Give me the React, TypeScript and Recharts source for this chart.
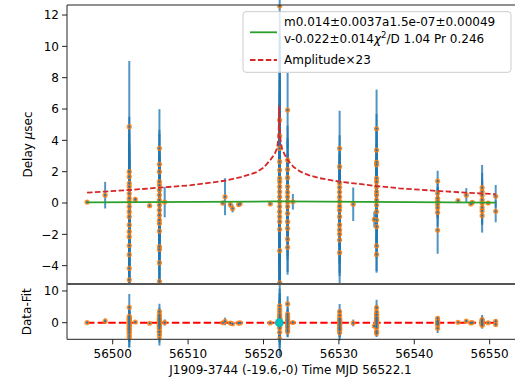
import React from 'react';
import { ComposedChart, Scatter, Line, XAxis, YAxis, ErrorBar } from 'recharts';

// ---- data ----
const epochs = [
  56496.6, 56499.0, 56502.2, 56503.0, 56504.9, 56506.2, 56506.9, 56514.6, 56514.9,
  56515.6, 56515.9, 56516.7, 56516.9, 56520.9, 56522.15, 56523.2, 56523.9, 56530.1,
  56531.9, 56534.7, 56535.0, 56543.1, 56545.8, 56546.9, 56547.5, 56547.7, 56549.0,
  56549.8, 56550.8,
];
const delays: number[][] = [
  [0.06],
  [0.5],
  [4.87, 2.0, 1.68, 1.25, 1.04, 0.6, 0.3, 0.08, -0.23, -0.55, -0.87, -1.4, -1.83, -2.15, -2.72, -3.3, -4.17, -4.9],
  [0.23],
  [-0.17],
  [3.49, 2.47, 2.0, 1.36, 1.15, 0.83, 0.51, 0.19, -0.13, -0.45, -0.77, -1.09, -1.3, -1.79, -2.79, -2.96, -3.81, -5.0],
  [0.06],
  [0.0],
  [0.4],
  [-0.1],
  [-0.35],
  [-0.1],
  [-0.05],
  [-0.06],
  [12.57, 5.3, 4.28, 3.49, 2.64, 2.1, 1.58, 1.36, 1.04, 0.72, 0.4, 0.08, -0.23, -0.55, -0.87, -1.19, -1.68, -3.04, -5.1],
  [5.93, 2.74, 2.15, 1.62, 1.04, 0.68, 0.4, 0.08, -0.23, -0.66, -1.19, -1.62, -2.3, -2.83],
  [0.08],
  [3.49, 2.32, 1.27, 1.0, 0.7, 0.4, 0.1, -0.2, -0.45, -0.87, -1.4, -1.72, -1.98, -2.36, -3.17],
  [-0.08],
  [-1.05],
  [4.74, 3.38, 2.6, 2.45, 1.58, 1.36, 1.04, 0.72, 0.51, 0.19, -0.13, -0.55, -1.09, -1.51, -2.74, -3.28],
  [1.4, 0.62, 0.3, 0.1, -0.1, -0.3, -0.6, -1.74],
  [0.15],
  [0.5],
  [-0.06],
  [0.04],
  [0.98, 0.72, 0.5, 0.2, 0.0, -0.3, -0.5, -0.81],
  [0.0],
  [0.43, -0.53],
];
const errors: number[][] = [
  [0.1],
  [0.85],
  [4.2, 3.5, 3.0, 3.2, 2.8, 3.0, 2.5, 3.3, 3.0, 2.6, 3.1, 2.8, 3.4, 3.0, 3.2, 2.9, 3.5, 3.0],
  [0.15],
  [0.1],
  [2.5, 2.2, 2.4, 2.0, 2.3, 2.1, 2.5, 2.2, 2.4, 2.0, 2.6, 2.2, 2.4, 2.1, 2.3, 2.0, 2.4, 2.2],
  [0.97],
  [0.15],
  [1.18],
  [0.2],
  [0.25],
  [0.15],
  [0.15],
  [0.1],
  [6.0, 5.5, 5.0, 5.6, 5.2, 4.8, 5.5, 5.0, 5.3, 4.9, 5.4, 5.1, 5.6, 5.0, 5.2, 4.9, 5.3, 5.0, 5.5],
  [2.4, 2.2, 2.0, 2.3, 2.1, 1.9, 2.2, 2.0, 2.1, 1.9, 2.2, 2.0, 2.1, 1.75],
  [0.5],
  [2.4, 2.0, 2.3, 2.1, 2.5, 2.2, 2.4, 2.0, 2.3, 2.1, 2.4, 2.2, 2.5, 2.3, 2.4],
  [1.07],
  [0.5],
  [2.5, 2.3, 2.1, 2.4, 2.2, 2.0, 2.3, 2.1, 2.2, 2.0, 2.4, 2.1, 2.3, 2.0, 1.6, 1.17],
  [0.66, 0.8, 0.7, 0.9, 0.8, 0.7, 0.9, 1.5],
  [0.1],
  [0.45],
  [0.1],
  [0.1],
  [1.45, 1.2, 1.0, 1.1, 0.9, 1.0, 0.9, 1.08],
  [0.1],
  [0.72, 0.7],
];

// fitted model (green) and scaled amplitude curve (red dashed)
const fitMjd = [56496.6, 56522.1, 56550.8];
const fitDelay = [0.04, 0.1, 0.02];
const fitMean = 0.014;

const ampMjd = [
  56496.6, 56499.0, 56502.2, 56506.2, 56510.0, 56513.0, 56514.8, 56517.0, 56519.0, 56520.0,
  56520.9, 56521.5, 56521.8, 56522.0, 56522.1, 56522.2, 56522.45, 56522.8, 56523.2, 56524.0,
  56524.9, 56526.0, 56527.5, 56530.1, 56533.0, 56535.0, 56538.0, 56543.1, 56546.9, 56550.8,
];
const ampValue = [
  0.66, 0.73, 0.83, 0.98, 1.12, 1.3, 1.42, 1.65, 1.95, 2.25,
  2.74, 3.15, 3.49, 4.2, 6.2, 4.2, 3.49, 3.1, 2.74, 2.3,
  2.0, 1.78, 1.58, 1.36, 1.2, 1.08, 0.94, 0.77, 0.66, 0.56,
];
const zeroMjd = [56496.6, 56550.8];
const highlight = { mjd: 56522.1, resid: 0 };

const xTicks = [56500, 56510, 56520, 56530, 56540, 56550];
const topYTicks = [-4, -2, 0, 2, 4, 6, 8, 10, 12];
const botYTicks = [0, 10];

// ---- tables built from the arrays ----
const points = epochs.flatMap((m, i) =>
  delays[i].map((d, j) => ({ x: m, y: d, e: errors[i][j], r: d - fitMean }))
);
const fitLine = fitMjd.map((m, i) => ({ x: m, y: fitDelay[i] }));
const ampLine = ampMjd.map((m, i) => ({ x: m, y: ampValue[i] }));
const zeroLine = zeroMjd.map((m) => ({ x: m, y: 0 }));
const hiPoint = [{ x: highlight.mjd, r: highlight.resid }];

const FONT = 'DejaVu Sans';
const fmt = (v: number) => String(v).replace('-', '\u2212');
const xDomain: [number, number] = [56493.94, 56553.36];
const topDomain: [number, number] = [-5.17, 12.64];
const botDomain: [number, number] = [-5.24, 12.2];

const orangeShape = (p: any) => (
  <circle cx={p.cx} cy={p.cy} r={2.6} fill="#ff7f0e" fillOpacity={0.85} />
);
const blueShape = (p: any) => <circle cx={p.cx} cy={p.cy} r={1.1} fill="#1f77b4" />;
const cyanShape = (p: any) => <circle cx={p.cx} cy={p.cy} r={4.4} fill="#00bfbf" />;
const noDot = () => null;

const tickStyle = { fill: '#000', fontSize: 12, fontFamily: FONT };

export default function App() {
  return (
    <div style={{ position: 'absolute', left: 0, top: 0, width: 515, height: 383, fontFamily: FONT }}>
      {/* top panel: data with error bars */}
      <div style={{ position: 'absolute', left: 0, top: 0 }}>
        <ComposedChart width={515} height={285} margin={{ top: 5, right: 0, bottom: 1, left: 0 }}>
          <XAxis dataKey="x" type="number" domain={xDomain} allowDataOverflow hide />
          <YAxis
            type="number"
            domain={topDomain}
            allowDataOverflow
            ticks={topYTicks}
            interval={0}
            width={67}
            tickSize={5}
            tickMargin={3}
            tickFormatter={fmt}
            tick={tickStyle}
            axisLine={{ stroke: '#222', strokeWidth: 1 }}
            tickLine={{ stroke: '#222' }}
          />
          <Scatter data={points} dataKey="y" shape={orangeShape} isAnimationActive={false} />
          <Scatter data={points} dataKey="y" shape={blueShape} isAnimationActive={false}>
            <ErrorBar dataKey="e" direction="y" width={0} stroke="#1f77b4" strokeWidth={2} strokeOpacity={0.78} />
          </Scatter>
        </ComposedChart>
      </div>
      {/* top panel: model curves drawn above the data */}
      <div style={{ position: 'absolute', left: 0, top: 0 }}>
        <ComposedChart width={515} height={285} margin={{ top: 5, right: 0, bottom: 1, left: 67 }}>
          <XAxis dataKey="x" type="number" domain={xDomain} allowDataOverflow hide />
          <YAxis type="number" domain={topDomain} allowDataOverflow hide />
          <Line data={fitLine} dataKey="y" stroke="#2ca02c" strokeWidth={1.8} dot={noDot} activeDot={false} isAnimationActive={false} />
          <Line data={ampLine} dataKey="y" type="linear" stroke="#d62728" strokeWidth={1.8} strokeDasharray="5.5 2.4" dot={noDot} activeDot={false} isAnimationActive={false} />
        </ComposedChart>
      </div>
      {/* bottom panel: residuals */}
      <div style={{ position: 'absolute', left: 0, top: 284 }}>
        <ComposedChart width={515} height={99} margin={{ top: 0, right: 0, bottom: 0, left: 0 }}>
          <XAxis
            dataKey="x"
            type="number"
            domain={xDomain}
            allowDataOverflow
            ticks={xTicks}
            interval={0}
            height={43.7}
            tickSize={5}
            tickMargin={5}
            tick={tickStyle}
            axisLine={{ stroke: '#222', strokeWidth: 1 }}
            tickLine={{ stroke: '#222' }}
          />
          <YAxis
            type="number"
            domain={botDomain}
            allowDataOverflow
            ticks={botYTicks}
            interval={0}
            width={67}
            tickSize={5}
            tickMargin={3}
            tickFormatter={fmt}
            tick={tickStyle}
            axisLine={{ stroke: '#222', strokeWidth: 1 }}
            tickLine={{ stroke: '#222' }}
          />
          <Scatter data={points} dataKey="r" shape={orangeShape} isAnimationActive={false} />
          <Scatter data={points} dataKey="r" shape={blueShape} isAnimationActive={false}>
            <ErrorBar dataKey="e" direction="y" width={0} stroke="#1f77b4" strokeWidth={2} strokeOpacity={0.78} />
          </Scatter>
          <Line data={zeroLine} dataKey="y" stroke="#ff0000" strokeWidth={2} strokeDasharray="7.4 3.2" dot={noDot} activeDot={false} isAnimationActive={false} />
          <Scatter data={hiPoint} dataKey="r" shape={cyanShape} isAnimationActive={false} />
        </ComposedChart>
      </div>
      <svg width={515} height={383} style={{ position: 'absolute', left: 0, top: 0, pointerEvents: 'none' }}>
        <line x1={67} y1={5} x2={515} y2={5} stroke="#222" strokeWidth={1} />
        <line x1={67} y1={284} x2={515} y2={284} stroke="#555" strokeWidth={2} />
        <text x={31.5} y={144.5} transform="rotate(-90 31.5 144.5)" textAnchor="middle" fontSize={12} fontFamily={FONT} fill="#000">
          Delay <tspan fontStyle="italic">μ</tspan>sec
        </text>
        <text x={31.5} y={311.7} transform="rotate(-90 31.5 311.7)" textAnchor="middle" fontSize={12} fontFamily={FONT} fill="#000">
          Data-Fit
        </text>
        <text x={290.5} y={374.4} textAnchor="middle" fontSize={12} fontFamily={FONT} fill="#000">
          J1909-3744 (-19.6,-0) Time MJD 56522.1
        </text>
        <g>
          <rect x={243} y={11.7} width={268} height={60.6} rx={3} fill="#fff" fillOpacity={0.8} stroke="#ccc" strokeWidth={1} />
          <line x1={250} y1={32.3} x2={277} y2={32.3} stroke="#2ca02c" strokeWidth={1.8} />
          <line x1={250} y1={60} x2={277} y2={60} stroke="#d62728" strokeWidth={1.8} strokeDasharray="5.5 2.4" />
          <text x={284} y={26} fontSize={12} fontFamily={FONT} fill="#000">m0.014±0.0037a1.5e-07±0.00049</text>
          <text x={284} y={42.7} fontSize={12} fontFamily={FONT} fill="#000">
            v-0.022±0.014<tspan fontStyle="italic">χ</tspan>
            <tspan fontSize={8.5} dy={-5}>2</tspan>
            <tspan dy={5}>/D 1.04 Pr 0.246</tspan>
          </text>
          <text x={284} y={64.4} fontSize={12} fontFamily={FONT} fill="#000">Amplitude×23</text>
        </g>
      </svg>
    </div>
  );
}
